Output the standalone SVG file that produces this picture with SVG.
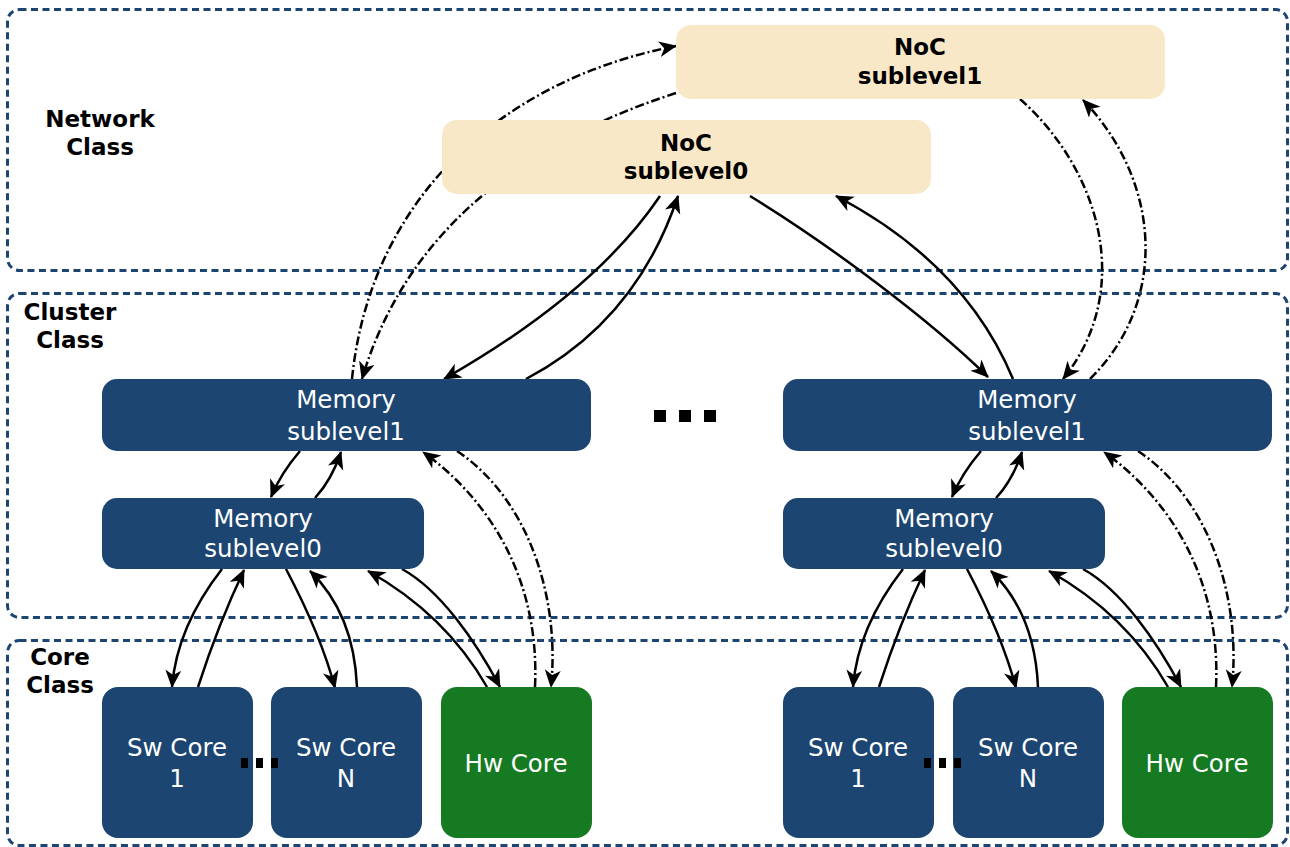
<svg xmlns="http://www.w3.org/2000/svg" width="1290" height="847" viewBox="0 0 1290 847">
<style>
.cls{fill:none;stroke:#1c4571;stroke-width:3;stroke-dasharray:7 4.5}
.noc{fill:#f9e8c8}
.mem{fill:#1c4571}
.hw{fill:#157a22}
.lbl{font-family:"DejaVu Sans",sans-serif;font-weight:bold;font-size:23px;fill:#000;text-anchor:middle}
.wt{font-family:"DejaVu Sans",sans-serif;font-size:24.5px;fill:#fff;text-anchor:middle}
.c{fill:none;stroke:#000;stroke-width:2.5;marker-end:url(#ah)}
.d{fill:none;stroke:#000;stroke-width:2.5;stroke-dasharray:9 3 2 3;marker-end:url(#ah)}
</style>
<defs>
<marker id="ah" markerUnits="userSpaceOnUse" markerWidth="20" markerHeight="18" refX="17" refY="8" orient="auto">
<path d="M0,0 L18,8 L0,16 L5,8 Z" fill="#000"/>
</marker>
</defs>
<rect width="1290" height="847" fill="#fff"/>
<g id="classes">
<rect class="cls" x="7.5" y="9.5" width="1280" height="261" rx="12"/>
<rect class="cls" x="7.5" y="293.5" width="1280" height="324" rx="12"/>
<rect class="cls" x="7.5" y="640.5" width="1280" height="205" rx="12"/>
<text class="lbl" x="100" y="127">Network</text>
<text class="lbl" x="100" y="155">Class</text>
<text class="lbl" x="70" y="320">Cluster</text>
<text class="lbl" x="70" y="348">Class</text>
<text class="lbl" x="60" y="665">Core</text>
<text class="lbl" x="60" y="693">Class</text>
</g>
<g id="connectors">
<path class="c" d="M660,196 C610,270 530,330 444,379"/>
<path class="c" d="M526,379 C600,340 650,280 678,196"/>
<path class="c" d="M750,196 C830,245 930,320 988,377"/>
<path class="c" d="M1013,379 C980,300 920,240 836,196"/>
<path class="d" d="M352,379 C370,200 500,80 676,46"/>
<path class="d" d="M676,93 C500,150 400,250 362,379"/>
<path class="d" d="M1020,99 C1100,170 1135,290 1063,379"/>
<path class="d" d="M1090,379 C1170,300 1160,180 1083,100"/>
<g id="connL">
<path class="c" d="M300,451 C288,465 278,480 271,497"/>
<path class="c" d="M315,498 C327,485 335,470 341,452"/>
<path class="c" d="M222,569 C190,610 175,650 172,687"/>
<path class="c" d="M198,687 C210,650 225,610 244,570"/>
<path class="c" d="M286,569 C305,605 325,650 335,688"/>
<path class="c" d="M357,687 C355,640 340,600 310,571"/>
<path class="c" d="M487,687 C460,640 420,600 368,571"/>
<path class="c" d="M402,569 C440,590 475,640 500,687"/>
<path class="d" d="M535,687 C540,580 490,500 423,452"/>
<path class="d" d="M457,451 C530,500 560,600 551,687"/>
</g>
<g id="connR" transform="translate(681,0)">
<path class="c" d="M300,451 C288,465 278,480 271,497"/>
<path class="c" d="M315,498 C327,485 335,470 341,452"/>
<path class="c" d="M222,569 C190,610 175,650 172,687"/>
<path class="c" d="M198,687 C210,650 225,610 244,570"/>
<path class="c" d="M286,569 C305,605 325,650 335,688"/>
<path class="c" d="M357,687 C355,640 340,600 310,571"/>
<path class="c" d="M487,687 C460,640 420,600 368,571"/>
<path class="c" d="M402,569 C440,590 475,640 500,687"/>
<path class="d" d="M535,687 C540,580 490,500 423,452"/>
<path class="d" d="M457,451 C530,500 560,600 551,687"/>
</g>
</g>
<g id="noc1"><rect class="noc" x="676" y="25" width="489" height="74" rx="15"/>
<text class="lbl" x="920" y="55">NoC</text><text class="lbl" x="920" y="84">sublevel1</text></g>
<g id="noc0"><rect class="noc" x="442" y="120" width="489" height="74" rx="15"/>
<text class="lbl" x="686" y="151">NoC</text><text class="lbl" x="686" y="179">sublevel0</text></g>
<g id="mem1L"><rect class="mem" x="102" y="379" width="489" height="72" rx="15"/>
<text class="wt" x="346" y="408">Memory</text><text class="wt" x="346" y="440">sublevel1</text></g>
<g id="mem0L"><rect class="mem" x="102" y="498" width="322" height="71" rx="15"/>
<text class="wt" x="263" y="527">Memory</text><text class="wt" x="263" y="557">sublevel0</text></g>
<g id="sw1L"><rect class="mem" x="102" y="687" width="151" height="151" rx="16"/>
<text class="wt" x="177" y="756">Sw Core</text><text class="wt" x="177" y="787">1</text></g>
<g id="swNL"><rect class="mem" x="271" y="687" width="151" height="151" rx="16"/>
<text class="wt" x="346" y="756">Sw Core</text><text class="wt" x="346" y="787">N</text></g>
<g id="hwL"><rect class="hw" x="441" y="687" width="151" height="151" rx="16"/>
<text class="wt" x="516" y="772">Hw Core</text></g>
<g id="mem1R"><rect class="mem" x="783" y="379" width="489" height="72" rx="15"/>
<text class="wt" x="1027" y="408">Memory</text><text class="wt" x="1027" y="440">sublevel1</text></g>
<g id="mem0R"><rect class="mem" x="783" y="498" width="322" height="71" rx="15"/>
<text class="wt" x="944" y="527">Memory</text><text class="wt" x="944" y="557">sublevel0</text></g>
<g id="sw1R"><rect class="mem" x="783" y="687" width="151" height="151" rx="16"/>
<text class="wt" x="858" y="756">Sw Core</text><text class="wt" x="858" y="787">1</text></g>
<g id="swNR"><rect class="mem" x="953" y="687" width="151" height="151" rx="16"/>
<text class="wt" x="1028" y="756">Sw Core</text><text class="wt" x="1028" y="787">N</text></g>
<g id="hwR"><rect class="hw" x="1122" y="687" width="151" height="151" rx="16"/>
<text class="wt" x="1197" y="772">Hw Core</text></g>
<g id="dots">
<rect x="654" y="410" width="12" height="12"/><rect x="679" y="410" width="12" height="12"/><rect x="704" y="410" width="12" height="12"/>
<rect x="241" y="758" width="7" height="10"/><rect x="256" y="758" width="7" height="10"/><rect x="271" y="758" width="7" height="10"/>
<rect x="924" y="758" width="7" height="10"/><rect x="939" y="758" width="7" height="10"/><rect x="954" y="758" width="7" height="10"/>
</g>
</svg>
